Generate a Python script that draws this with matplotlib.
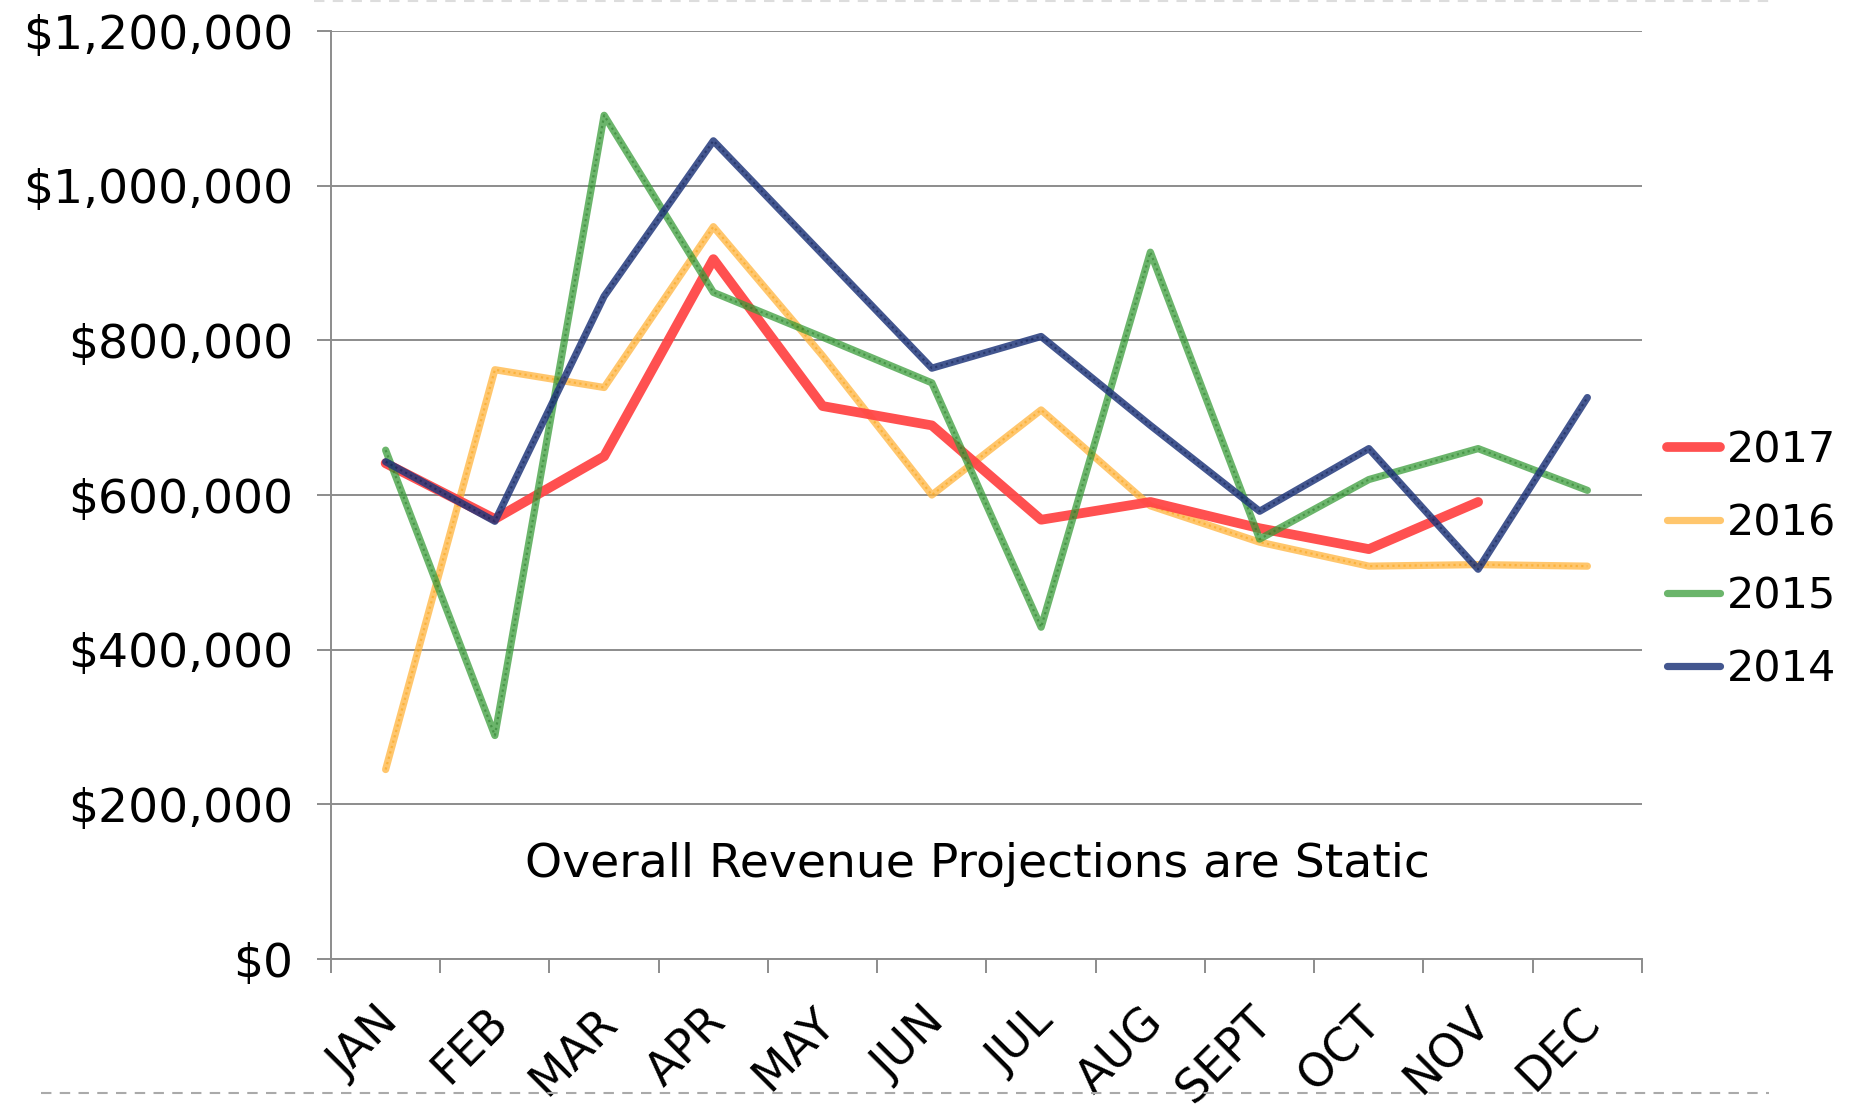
import numpy as np
import matplotlib.pyplot as plt
import matplotlib.ticker as mticker
import matplotlib.transforms as mtransforms
from matplotlib.lines import Line2D

plt.rcParams['font.family'] = ['DejaVu Sans']

months = ['JAN', 'FEB', 'MAR', 'APR', 'MAY', 'JUN', 'JUL', 'AUG', 'SEPT', 'OCT', 'NOV', 'DEC']
rev_2017 = [641000, 569000, 650000, 905000, 715000, 690000, 568000, 591000, 557000, 530000, 591000, np.nan]
rev_2016 = [245000, 762000, 739000, 947000, 780000, 600000, 710000, 586000, 539000, 508000, 510000, 508000]
rev_2015 = [658000, 289000, 1091000, 862000, 804000, 745000, 429000, 914000, 543000, 620000, 660000, 606000]
rev_2014 = [643000, 566000, 857000, 1058000, 911000, 764000, 805000, 690000, 579000, 660000, 504000, 726000]

# name, values, base colour, alpha, width, zorder, texture colour
series = [
    ('2017', rev_2017, '#ff4646', 0.95, 7.0, 3, None),
    ('2016', rev_2016, '#ffb43c', 0.75, 5.2, 2, '#f59a00'),
    ('2015', rev_2015, '#3a9c3a', 0.75, 5.2, 4, '#1f6e1f'),
    ('2014', rev_2014, '#22387c', 0.85, 5.2, 5, '#0b1747'),
]

fig = plt.figure(figsize=(18.56, 11.08), dpi=100)
ax = fig.add_axes([331 / 1856, 1 - 959 / 1108, (1642 - 331) / 1856, (959 - 31) / 1108])

x = np.arange(len(months))
handles = []
for name, vals, col, a, lw, z, tex in series:
    ax.plot(x, vals, color=col, alpha=a, lw=lw, zorder=z,
            solid_capstyle='round', solid_joinstyle='round')
    if tex:
        # fine dotted overlay to mimic the patterned strokes
        ax.plot(x, vals, color=tex, alpha=0.45, lw=1.6, ls=(0, (1, 1.5)), zorder=z)
    handles.append(Line2D([], [], color=col, alpha=a, lw=lw, solid_capstyle='round'))

grid_col = '#8c8c8c'
ax.set_xlim(-0.5, 11.5)
ax.set_ylim(0, 1200000)
ax.set_yticks(np.arange(0, 1200001, 200000))
ax.yaxis.set_major_formatter(mticker.FuncFormatter(lambda v, p: '${:,.0f}'.format(v)))
ax.yaxis.grid(True, color=grid_col, lw=1.4)
ax.set_axisbelow(True)

ax.set_xticks(np.arange(-0.5, 12, 1))
ax.set_xticklabels([])
ax.set_xticks(x, minor=True)
ax.set_xticklabels(months, minor=True, rotation=45, ha='right', va='top',
                   rotation_mode='anchor', fontsize=33)
ax.tick_params(axis='x', which='minor', length=0, pad=29)
ax.tick_params(axis='both', which='major', direction='out', length=10,
               width=1.4, color=grid_col)
ax.tick_params(axis='y', labelsize=34, pad=17)

shift = mtransforms.ScaledTranslation(-10 / 100, 0, fig.dpi_scale_trans)
for lab in ax.get_xticklabels(minor=True):
    lab.set_transform(lab.get_transform() + shift)

for s in ['top', 'right']:
    ax.spines[s].set_visible(False)
for s in ['left', 'bottom']:
    ax.spines[s].set_color(grid_col)
    ax.spines[s].set_linewidth(1.4)

ax.text(0.493, 0.102, 'Overall Revenue Projections are Static', transform=ax.transAxes,
        ha='center', va='center', fontsize=34)

fig.legend(handles, [s[0] for s in series], loc='center left',
           bbox_to_anchor=(1645 / 1856, 0.495), frameon=False, fontsize=31,
           handlelength=1.25, handletextpad=0.15, labelspacing=0.72, borderpad=0)

# dashed separators at top and bottom
fig.add_artist(Line2D([314 / 1856, 1769 / 1856], [1 - 1 / 1108] * 2, color='#dddddd',
                      lw=1.5, ls=(0, (5, 4))))
fig.add_artist(Line2D([41 / 1856, 1769 / 1856], [1 - 1093 / 1108] * 2, color='#aaaaaa',
                      lw=1.5, ls=(0, (5, 4))))

fig.savefig('out.png', dpi=100)
